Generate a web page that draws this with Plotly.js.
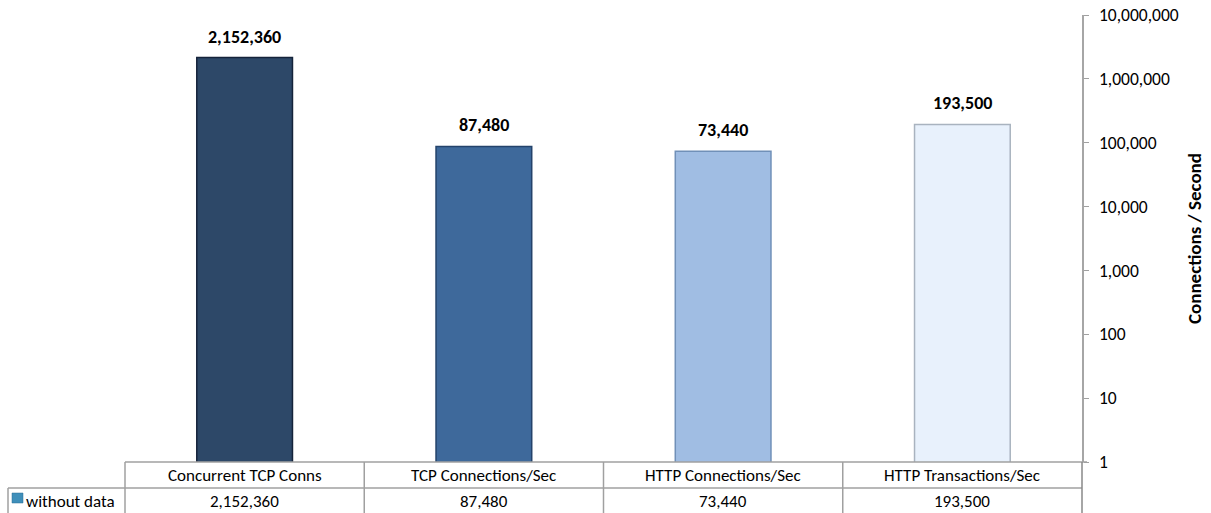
<!DOCTYPE html>
<html>
<head>
<meta charset="utf-8">
<script src="https://cdn.plot.ly/plotly-3.0.1.min.js"></script>
<style>html,body{margin:0;padding:0;background:#fff;}#chart{width:1211px;height:513px;}</style>
</head>
<body>
<div id="chart"></div>
<script>
const categories = ["Concurrent TCP Conns", "TCP Connections/Sec", "HTTP Connections/Sec", "HTTP Transactions/Sec"];
const values = [2152360, 87480, 73440, 193500];
const seriesName = "without data";
const barColors = ["#2d4868", "#3e699b", "#a0bde3", "#e8f1fc"];
const barLineColors = ["#15233a", "#24436b", "#7090b8", "#a9b3bf"];
const tickVals = [1, 10, 100, 1000, 10000, 100000, 1000000, 10000000];

const FONT = "Carlito, Calibri, Lato, 'Open Sans', sans-serif";
const fmt = v => v.toLocaleString("en-US");

const W = 1211, H = 513;
const L = 125, R = 1082, T = 15, B = 462;
const pw = R - L, ph = B - T;
const px = x => (x - L) / pw;
const py = y => (B - y) / ph;

const trace = {
  type: "bar",
  x: categories,
  y: values,
  name: seriesName,
  width: 0.4,
  marker: {color: barColors, line: {color: barLineColors, width: 1.5}},
  hoverinfo: "x+y",
  showlegend: false
};

const annotations = [];
categories.forEach((c, i) => {
  annotations.push({
    x: c, y: Math.log10(values[i]), xref: "x", yref: "y",
    text: "<b>" + fmt(values[i]) + "</b>", showarrow: false,
    yanchor: "bottom", yshift: 8,
    font: {family: FONT, size: 18, color: "#000"}
  });
});
const n = categories.length;
categories.forEach((c, i) => {
  const xc = (i + 0.5) / n;
  annotations.push({
    x: xc, y: py(475), xref: "paper", yref: "paper", text: c, showarrow: false,
    xanchor: "center", yanchor: "middle", font: {family: FONT, size: 17, color: "#000"}
  });
  annotations.push({
    x: xc, y: py(501), xref: "paper", yref: "paper", text: fmt(values[i]), showarrow: false,
    xanchor: "center", yanchor: "middle", font: {family: FONT, size: 17, color: "#000"}
  });
});
annotations.push({
  x: px(24), y: py(501), xref: "paper", yref: "paper", text: seriesName, showarrow: false,
  xanchor: "left", yanchor: "middle", font: {family: FONT, size: 17, color: "#000"}
});

const gridCol = "#a0a0a0";
const shapes = [];
shapes.push({type: "line", xref: "paper", yref: "paper", x0: 0, x1: px(1087), y0: 0, y1: 0, line: {color: gridCol, width: 1.5}});
shapes.push({type: "line", xref: "paper", yref: "paper", x0: px(8), x1: 1, y0: py(488), y1: py(488), line: {color: gridCol, width: 1.5}});
for (let i = 0; i <= n; i++) {
  shapes.push({type: "line", xref: "paper", yref: "paper", x0: i / n, x1: i / n, y0: 0, y1: py(514), line: {color: i === n ? "#888" : gridCol, width: 1.5}});
}
shapes.push({type: "line", xref: "paper", yref: "paper", x0: px(8), x1: px(8), y0: py(488), y1: py(514), line: {color: gridCol, width: 1.5}});
shapes.push({type: "rect", xref: "paper", yref: "paper", x0: px(12), x1: px(23), y0: py(493), y1: py(503), fillcolor: "#3f8fba", line: {color: "#2b6f96", width: 0.5}});

const layout = {
  width: W, height: H,
  margin: {l: L, r: W - R, t: T, b: H - B, pad: 0},
  paper_bgcolor: "#fff", plot_bgcolor: "#fff",
  bargap: 0.6,
  font: {family: FONT, size: 17, color: "#000"},
  xaxis: {
    type: "category", showticklabels: false, showline: false, ticks: "",
    showgrid: false, zeroline: false, range: [-0.5, n - 0.5], fixedrange: true
  },
  yaxis: {
    type: "log", side: "right", range: [0, 7],
    tickvals: tickVals, ticktext: tickVals.map(fmt),
    ticks: "outside", ticklen: 5, tickcolor: "#a0a0a0",
    ticklabelstandoff: 7,
    showline: true, linecolor: "#a6a6a6", linewidth: 1.5,
    showgrid: false, zeroline: false,
    tickfont: {family: FONT, size: 17.5, color: "#000"},
    title: {text: "<b>Connections / Second</b>", font: {family: FONT, size: 19, color: "#000"}, standoff: 10},
    fixedrange: true
  },
  annotations: annotations,
  shapes: shapes,
  showlegend: false
};

Plotly.newPlot("chart", [trace], layout, {displayModeBar: false, staticPlot: true});
</script>
</body>
</html>
